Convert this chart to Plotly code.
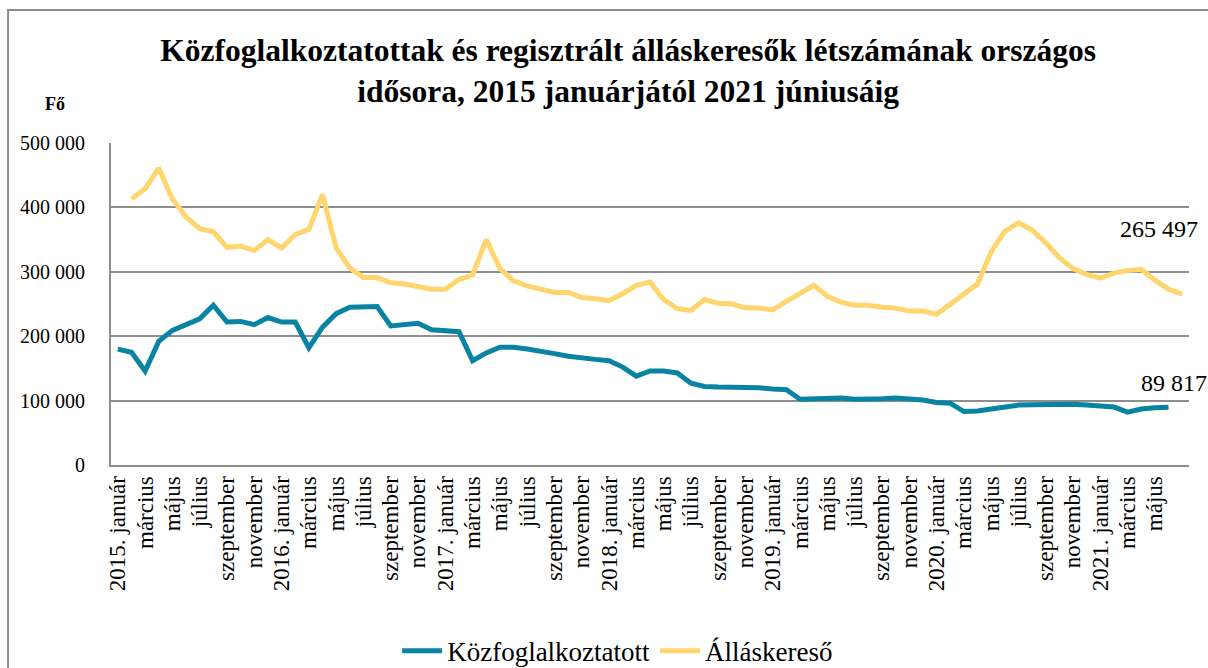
import plotly.graph_objects as go

months_hu = ["január", "február", "március", "április", "május", "június",
             "július", "augusztus", "szeptember", "október", "november", "december"]
# 79 monthly categories: 2015 January .. 2021 July
categories = []
for yr in range(2015, 2022):
    for mi, m in enumerate(months_hu):
        if yr == 2021 and mi > 6:
            break
        categories.append(f"{yr}. {m}" if mi == 0 else m)
x_idx = list(range(len(categories)))

# Közfoglalkoztatott (first 78 categories)
kozfog = [180000, 175000, 146000, 192000, 209000, 219000, 227000, 248000, 222000, 223000,
          218000, 229000, 222000, 222000, 182000, 214000, 235000, 245000, 245000, 246000,
          216000, 218000, 220000, 210000, 209000, 207000, 162000, 174000, 183000, 183000,
          180000, 177000, 173000, 169000, 166000, 164000, 162000, 152000, 138000, 146000,
          146000, 143000, 127000, 122000, 121000, 121000, 121000, 120000, 118000, 117000,
          102000, 102500, 104000, 104000, 102000, 102000, 103000, 104000, 103000, 101000,
          97000, 96000, 83000, 84000, 87000, 90000, 93000, 93500, 94000, 94500,
          94500, 93000, 91000, 90000, 82000, 87000, 89000, 89817]

# Álláskereső (categories 2..79)
allaskereso = [413000, 429000, 461000, 413000, 385000, 367000, 362000, 338000, 340000, 333000,
               350000, 337000, 358000, 366000, 420000, 337000, 306000, 291000, 291000, 283000,
               281000, 277000, 273000, 273000, 288000, 295000, 350000, 305000, 286000, 278000,
               273000, 268000, 268000, 260000, 258000, 255000, 266000, 279000, 284000, 257000,
               243000, 240000, 257000, 251000, 250000, 244000, 243600, 241000, 254000, 266000,
               279000, 262000, 253000, 248000, 248000, 245000, 243600, 239000, 239000, 234000,
               250000, 265000, 281000, 331000, 363000, 376000, 365000, 345000, 322000, 305000,
               296000, 290000, 298000, 302000, 304000, 287000, 273000, 265497]

ytick_vals = [0, 100000, 200000, 300000, 400000, 500000]
ytick_text = ["0", "100 000", "200 000", "300 000", "400 000", "500 000"]

xtick_vals = x_idx[0:77:2]
xtick_text = [categories[i] for i in xtick_vals]

BLUE = "#0884A2"
YELLOW = "#FFD56E"
GRID = "#8E8E8E"
FONT = "Liberation Serif, DejaVu Serif, serif"

fig = go.Figure()
fig.add_trace(go.Scatter(x=x_idx[:len(kozfog)], y=kozfog, mode="lines",
                         name="Közfoglalkoztatott",
                         line=dict(color=BLUE, width=5, shape="linear"),
                         cliponaxis=False))
fig.add_trace(go.Scatter(x=x_idx[1:1 + len(allaskereso)], y=allaskereso, mode="lines",
                         name="Álláskereső",
                         line=dict(color=YELLOW, width=5, shape="linear"),
                         cliponaxis=False))

fig.add_annotation(x=x_idx[len(allaskereso)], y=allaskereso[-1], xref="x", yref="y",
                   text="265 497", showarrow=False, xanchor="left", yanchor="middle",
                   xshift=-64, yshift=65, font=dict(family=FONT, size=24, color="#000"))
fig.add_annotation(x=x_idx[len(kozfog) - 1], y=kozfog[-1], xref="x", yref="y",
                   text="89 817", showarrow=False, xanchor="left", yanchor="middle",
                   xshift=-30, yshift=24, font=dict(family=FONT, size=24, color="#000"))

fig.add_annotation(x=-0.052, y=1.12, xref="paper", yref="paper", text="<b>Fő</b>",
                   showarrow=False, xanchor="center", yanchor="middle",
                   font=dict(family=FONT, size=18, color="#000"))

# outer chart frame
fig.add_shape(type="rect", xref="paper", yref="paper", x0=-0.0955, y0=-0.7, x1=1.05, y1=1.413,
              line=dict(color="#8C8C8C", width=2), fillcolor="rgba(0,0,0,0)", layer="below")

fig.update_layout(
    width=1208, height=668,
    margin=dict(l=111, r=19, t=143, b=203, autoexpand=False),
    paper_bgcolor="white", plot_bgcolor="white",
    title=dict(text="<b>Közfoglalkoztatottak és regisztrált álláskeresők létszámának országos<br>"
                    "idősora, 2015 januárjától 2021 júniusáig</b>",
               x=0.52, xanchor="center", y=0.908, yanchor="middle",
               font=dict(family=FONT, size=31.5, color="#000")),
    font=dict(family=FONT, color="#000"),
    legend=dict(orientation="h", x=0.47, xanchor="center", y=-0.578, yanchor="middle",
                font=dict(family=FONT, size=27, color="#000"), itemwidth=40,
                traceorder="normal", bgcolor="rgba(0,0,0,0)"),
    xaxis=dict(range=[-0.5, len(categories) - 0.5], tickmode="array",
               tickvals=xtick_vals, ticktext=xtick_text, tickangle=-90, automargin=False,
               showgrid=False, zeroline=False, showline=True, linecolor=GRID, linewidth=2,
               ticks="", tickfont=dict(family=FONT, size=23, color="#000")),
    yaxis=dict(range=[0, 500000], tickmode="array", tickvals=ytick_vals, ticktext=ytick_text,
               automargin=False,
               showgrid=True, gridcolor=GRID, gridwidth=2, zeroline=False,
               showline=True, linecolor=GRID, linewidth=2, ticks="", ticklen=0,
               tickfont=dict(family=FONT, size=20, color="#000"), ticklabelstandoff=20),
    showlegend=True,
)

fig.write_html("out.html")
